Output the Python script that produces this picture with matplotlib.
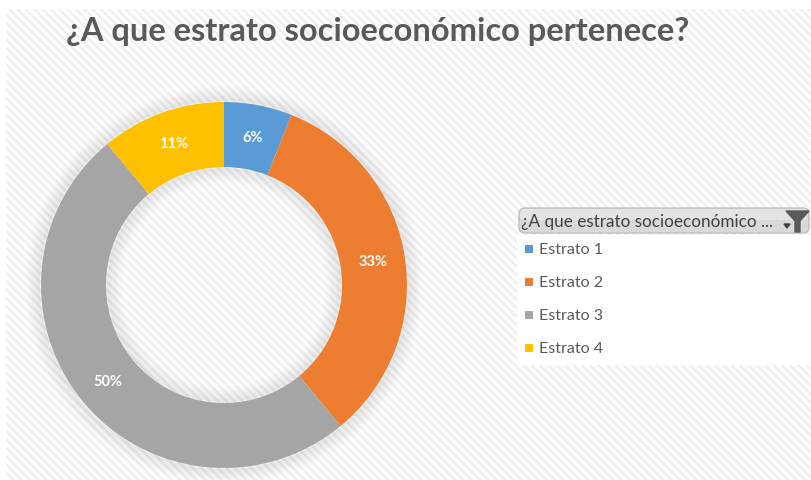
import numpy as np
import matplotlib.pyplot as plt
from matplotlib.patches import Rectangle, FancyBboxPatch, Polygon, Circle

# datos de la gráfica
categorias = ['Estrato 1', 'Estrato 2', 'Estrato 3', 'Estrato 4']
porcentajes = [6, 33, 50, 11]
colores = ['#5b9bd5', '#ed7d31', '#a5a5a5', '#ffc000']
titulo = '¿A que estrato socioeconómico pertenece?'
titulo_leyenda = '¿A que estrato socioeconómico ...'

W, H = 812, 481
plt.rcParams['font.family'] = ['Lato', 'DejaVu Sans']
plt.rcParams['hatch.linewidth'] = 1.8

fig = plt.figure(figsize=(W / 100, H / 100), dpi=100)
fig.patch.set_facecolor('white')

# fondo rayado (pixeles -> fraccion de figura)
bg = fig.add_axes([0, 0, 1, 1])
bg.set_xlim(0, W)
bg.set_ylim(H, 0)
bg.axis('off')
bg.add_patch(Rectangle((6, 10), W - 6, H - 10, facecolor='white',
                       edgecolor='#f0f0f0', hatch='\\\\\\\\', linewidth=0))

# sombra suave alrededor del anillo
cx, cy, r_ext, ancho = 224, 286, 183, 65
for k in range(14):
    a = 0.045 * (1 - k / 14)
    bg.add_patch(Circle((cx, cy), r_ext + 1 + k * 1.2, facecolor='none',
                        edgecolor='#000000', alpha=a, linewidth=1.8))
    bg.add_patch(Circle((cx, cy), r_ext - ancho - 1 - k * 1.2, facecolor='none',
                        edgecolor='#000000', alpha=a, linewidth=1.8))

fig.text(66 / W, 1 - 32 / H, titulo, fontsize=23.5, fontweight='bold',
         color='#595959', va='center', ha='left')

# dona
ax = fig.add_axes([(cx - r_ext) / W, (H - cy - r_ext) / H,
                   2 * r_ext / W, 2 * r_ext / H])
ax.set_aspect('equal')
wedges, textos = ax.pie(porcentajes, colors=colores, startangle=90, counterclock=False,
                        radius=1, wedgeprops=dict(width=ancho / r_ext, linewidth=0))
ax.set_xlim(-1, 1)
ax.set_ylim(-1, 1)
ax.axis('off')

# etiquetas de porcentaje
r_lab = 1 - ancho / r_ext / 2
for w, p in zip(wedges, porcentajes):
    ang = np.deg2rad((w.theta1 + w.theta2) / 2)
    ax.text(r_lab * np.cos(ang), r_lab * np.sin(ang), f'{p}%', color='white',
            fontsize=10.5, fontweight='bold', ha='center', va='center')

# leyenda con cabecera de filtro
bg.add_patch(Rectangle((517, 236), W - 517, 130, facecolor='white', edgecolor='none'))
bg.add_patch(FancyBboxPatch((519, 209), 290, 25, boxstyle='round,pad=0,rounding_size=6',
                            facecolor='#d9d9d9', edgecolor='#bfbfbf', linewidth=1))
bg.add_patch(FancyBboxPatch((520, 210), 288, 11, boxstyle='round,pad=0,rounding_size=5',
                            facecolor='#e4e4e4', edgecolor='none'))
bg.text(521, 222, titulo_leyenda, fontsize=12.3, color='#404040', va='center', ha='left')
bg.add_patch(Polygon([[784, 225], [790, 225], [787, 229]], color='#404040'))
bg.add_patch(Polygon([[786, 212], [809, 212], [800, 222], [800, 233],
                      [795, 233], [795, 222]], color='#595959'))

for i, (cat, col) in enumerate(zip(categorias, colores)):
    y = 250 + i * 33
    bg.add_patch(Rectangle((525, y - 4), 8, 8, facecolor=col, edgecolor='none'))
    bg.text(539, y, cat, fontsize=11.5, color='#595959', va='center', ha='left')

fig.savefig('out.png', dpi=100)
